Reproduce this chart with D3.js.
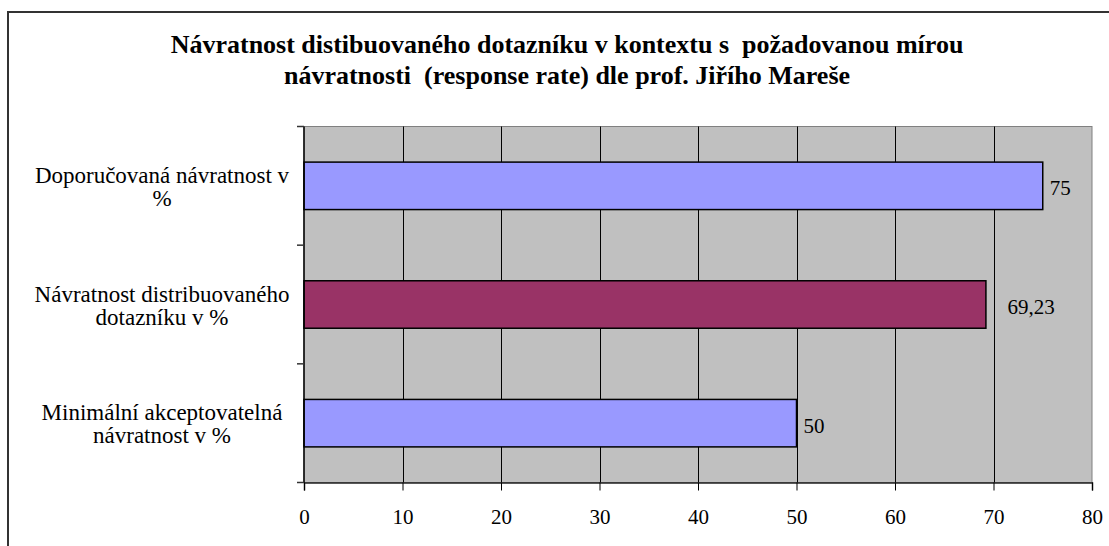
<!DOCTYPE html>
<html>
<head>
<meta charset="utf-8">
<script src="https://cdn.jsdelivr.net/npm/d3@7"></script>
<style>
  body { margin: 0; background: #fff; }
  text { font-family: "Liberation Serif", "Times New Roman", serif; fill: #000; }
</style>
</head>
<body>
<div id="graf"></div>
<script>
// Data grafu
var kategorie = [
    ["Doporučovaná návratnost v", "%"],
    ["Návratnost distribuovaného", "dotazníku v %"],
    ["Minimální akceptovatelná", "návratnost v %"]
];
var hodnoty = [75, 69.23, 50];
var popisky = ["75", "69,23", "50"];
var barvy = ["#9999FF", "#993366", "#9999FF"];
var osaX = [0, 10, 20, 30, 40, 50, 60, 70, 80];
var nadpis = [
    "Návratnost distibuovaného dotazníku v kontextu s  požadovanou mírou",
    "návratnosti  (response rate) dle prof. Jiřího Mareše"
];

var sirka = 1109, vyska = 546;
var plocha = { left: 304, right: 1092, top: 126.5, bottom: 482.5 };

var svg = d3.select("#graf")
    .append("svg")
    .attr("width", sirka)
    .attr("height", vyska);

// Rámeček celého grafu
svg.append("rect")
    .attr("x", 8)
    .attr("y", 12)
    .attr("width", 1200)
    .attr("height", 600)
    .attr("fill", "#fff")
    .attr("stroke", "#333")
    .attr("stroke-width", 2);

// Nadpis
svg.append("g")
    .selectAll("text")
    .data(nadpis)
    .enter()
    .append("text")
    .attr("x", 567)
    .attr("y", (d, i) => 53 + i * 31)
    .attr("text-anchor", "middle")
    .style("font-size", "26px")
    .style("font-weight", "bold")
    .style("white-space", "pre")
    .text(d => d);

var x = d3.scaleLinear()
    .domain([0, 80])
    .range([plocha.left, plocha.right]);

var y = d3.scaleBand()
    .domain(d3.range(kategorie.length))
    .range([plocha.top, plocha.bottom])
    .paddingInner(0.6)
    .paddingOuter(0.3);

// Pozadí plochy
svg.append("rect")
    .attr("x", plocha.left)
    .attr("y", plocha.top)
    .attr("width", plocha.right - plocha.left)
    .attr("height", plocha.bottom - plocha.top)
    .attr("fill", "#C0C0C0")
    .attr("stroke", "#808080")
    .attr("stroke-width", 1);

// Mřížka
var mrizka = osaX.filter(d => d > 0 && d < 80);
svg.append("g")
    .selectAll("line")
    .data(mrizka)
    .enter()
    .append("line")
    .attr("x1", d => Math.round(x(d)) + 0.5)
    .attr("x2", d => Math.round(x(d)) + 0.5)
    .attr("y1", plocha.top)
    .attr("y2", plocha.bottom)
    .attr("stroke", "#000")
    .attr("stroke-width", 1);

// Sloupce
svg.append("g")
    .selectAll("rect")
    .data(hodnoty)
    .enter()
    .append("rect")
    .attr("x", x(0))
    .attr("y", (d, i) => y(i))
    .attr("width", d => x(d) - x(0))
    .attr("height", y.bandwidth())
    .attr("fill", (d, i) => barvy[i])
    .attr("stroke", "#000")
    .attr("stroke-width", 1.5);

// Popisky hodnot - pokud je hned za sloupcem čára mřížky, posunout za ni
function pozicePopisku(d) {
    var kraj = x(d);
    var cara = mrizka.map(x).find(g => g > kraj && g < kraj + 14);
    return cara ? cara + 14 : kraj + 7;
}
svg.append("g")
    .selectAll("text")
    .data(hodnoty)
    .enter()
    .append("text")
    .attr("x", d => pozicePopisku(d))
    .attr("y", (d, i) => y(i) + y.bandwidth() / 2 + 2)
    .attr("dy", "0.35em")
    .style("font-size", "21px")
    .text((d, i) => popisky[i]);

// Osa X
var osaXg = svg.append("g")
    .attr("transform", "translate(0," + plocha.bottom + ")")
    .call(d3.axisBottom(x).tickValues(osaX).tickSize(8).tickPadding(19).tickFormat(d3.format("d")));
osaXg.select(".domain").attr("stroke", "#222").attr("stroke-width", 1.5);
osaXg.selectAll(".tick line").attr("stroke", "#000");
osaXg.selectAll(".tick text")
    .style("font-size", "21px")
    .style("font-family", "Liberation Serif, serif");

// Osa Y (čára a značky mezi kategoriemi)
var krok = (plocha.bottom - plocha.top) / kategorie.length;
svg.append("line")
    .attr("x1", plocha.left)
    .attr("x2", plocha.left)
    .attr("y1", plocha.top)
    .attr("y2", plocha.bottom)
    .attr("stroke", "#000")
    .attr("stroke-width", 1.5);
svg.append("g")
    .selectAll("line")
    .data(d3.range(kategorie.length + 1))
    .enter()
    .append("line")
    .attr("x1", plocha.left - 7)
    .attr("x2", plocha.left)
    .attr("y1", d => plocha.top + d * krok)
    .attr("y2", d => plocha.top + d * krok)
    .attr("stroke", "#333")
    .attr("stroke-width", 1.5);

// Popisky kategorií (dva řádky, na střed)
var kat = svg.append("g")
    .selectAll("text")
    .data(kategorie)
    .enter()
    .append("text")
    .attr("text-anchor", "middle")
    .style("font-size", "23px");
kat.selectAll("tspan")
    .data((d, i) => d.map(r => ({ r: r, i: i })))
    .enter()
    .append("tspan")
    .attr("x", 162)
    .attr("y", (d, j) => y(d.i) + y.bandwidth() / 2 - 3 + j * 23)
    .text(d => d.r);
</script>
</body>
</html>
